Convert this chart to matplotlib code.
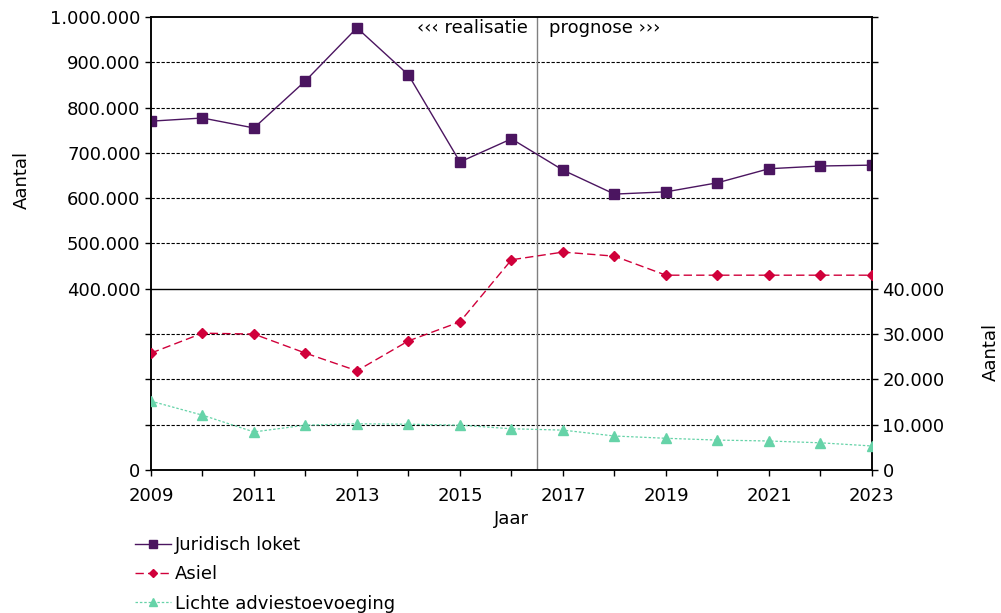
import matplotlib
matplotlib.use("Agg")
import matplotlib.pyplot as plt

years = list(range(2009, 2024))
juridisch_loket = [770000, 777000, 755000, 859000, 976000, 872000, 680000, 731000,
                   662000, 609000, 614000, 634000, 665000, 671000, 673000]
asiel = [25800, 30200, 30000, 25800, 21900, 28500, 32700, 46400,
         48100, 47200, 43000, 43000, 43000, 43000, 43000]
lichte = [15200, 12100, 8400, 9900, 10200, 10100, 9900, 9100,
          8800, 7500, 7000, 6600, 6400, 6000, 5300]

left_ticks = list(range(0, 1000001, 100000))
right_ticks = list(range(0, 100001, 10000))
split_year = 2016.5

plt.rcParams['font.family'] = ['DejaVu Sans']
fs = 13

def dots(v, pos=None):
    return f"{v:,.0f}".replace(",", ".")

fig = plt.figure(figsize=(10.01, 6.13), dpi=100)
ax = fig.add_axes([0.1508, 0.2333, 0.7203, 0.7390])
ax2 = ax.twinx()

# grid
for t in left_ticks[1:-1]:
    if t == 400000:
        ax.axhline(t, color='black', lw=1.0, zorder=1)
    else:
        ax.axhline(t, color='black', lw=0.8, ls=(0, (3, 1.5)), zorder=1)
ax.axvline(split_year, color='gray', lw=1.0, zorder=1)

l1, = ax.plot(years, juridisch_loket, color='#4B1560', lw=1.0, marker='s', ms=7,
              mec='#4B1560', label='Juridisch loket', zorder=3)
l2, = ax2.plot(years, asiel, color='#D0003A', lw=1.0, ls=(0, (6, 3)), marker='D', ms=5,
               label='Asiel', zorder=3)
l3, = ax2.plot(years, lichte, color='#66D3A8', lw=0.9, ls=(0, (2, 1.5)), marker='^', ms=7,
               label='Lichte adviestoevoeging', zorder=3)

ax.set_xlim(2009, 2023)
ax.set_ylim(0, 1000000)
ax2.set_ylim(0, 100000)

ax.set_xticks(years)
ax.set_xticklabels([str(y) if y % 2 == 1 else '' for y in years])
ax.set_yticks(left_ticks)
ax.set_yticklabels([dots(t) if t == 0 or t >= 400000 else '' for t in left_ticks])
ax2.set_yticks(right_ticks)
ax2.set_yticklabels([dots(t) if t <= 40000 else '' for t in right_ticks])

for a in (ax, ax2):
    a.tick_params(direction='out', length=4, width=1, colors='black', labelsize=fs)
    for s in a.spines.values():
        s.set_linewidth(1.1)
ax.tick_params(axis='x', pad=8)

ax.set_xlabel('Jaar', fontsize=fs, labelpad=4)
ax.set_ylabel('Aantal', fontsize=fs)
ax2.set_ylabel('Aantal', fontsize=fs)
ax.yaxis.set_label_coords(-0.166, 0.64)
ax2.yaxis.set_label_coords(1.152, 0.26)

ax.text(split_year - 0.18, 975000, '\u2039\u2039\u2039 realisatie', ha='right', va='center', fontsize=fs)
ax.text(split_year + 0.22, 975000, 'prognose \u203a\u203a\u203a', ha='left', va='center', fontsize=fs)

fig.legend(handles=[l1, l2, l3], loc='upper left', bbox_to_anchor=(0.128, 0.137),
           frameon=False, fontsize=fs, handlelength=2.0, handletextpad=0.2,
           labelspacing=0.62, borderaxespad=0, markerscale=0.75)

fig.savefig('out.png', dpi=100)
